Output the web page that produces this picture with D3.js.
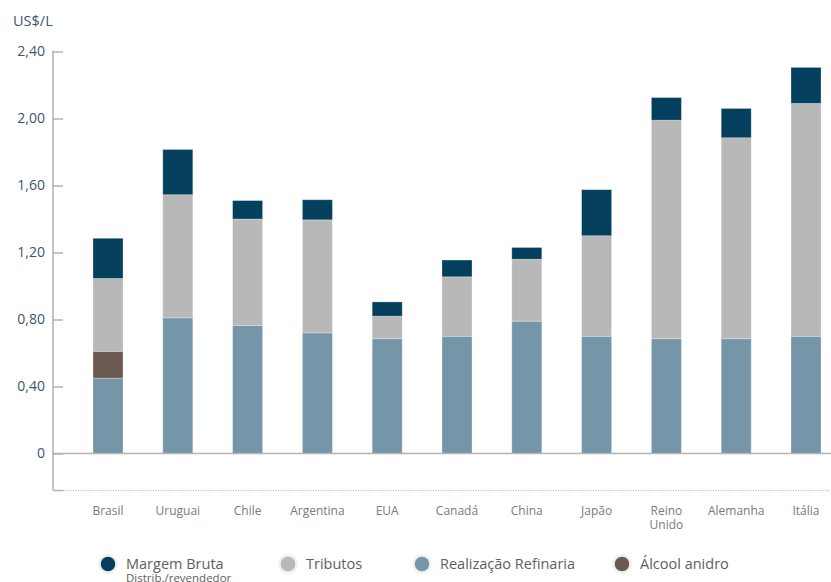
<!DOCTYPE html>
<html>
<head>
<meta charset="utf-8">
<script src="https://cdn.jsdelivr.net/npm/d3@7"></script>
<style>
  body { margin: 0; background: #fff; }
  svg text { font-family: "Open Sans", "Noto Sans", sans-serif; }
  .ytick text { fill: #3b5672; font-size: 14px; }
  .catlabel { fill: #7a7a7a; font-size: 12px; }
  .legtext { fill: #5e5e5e; font-size: 14.5px; }
</style>
</head>
<body>
<svg id="chart" width="831" height="582"></svg>
<script>
// data (US$/L)
var categories = ["Brasil", "Uruguai", "Chile", "Argentina", "EUA", "Canadá", "China", "Japão", "Reino Unido", "Alemanha", "Itália"];
var realizacao = [0.45, 0.81, 0.765, 0.72, 0.685, 0.70, 0.79, 0.70, 0.685, 0.685, 0.70];
var alcool     = [0.16, 0, 0, 0, 0, 0, 0, 0, 0, 0, 0];
var tributos   = [0.435, 0.735, 0.635, 0.675, 0.135, 0.355, 0.37, 0.60, 1.305, 1.20, 1.39];
var margem     = [0.24, 0.27, 0.11, 0.12, 0.085, 0.10, 0.07, 0.275, 0.135, 0.175, 0.215];
var yTicks     = [0, 0.4, 0.8, 1.2, 1.6, 2.0, 2.4];

var seriesKeys   = ["realizacao", "alcool", "tributos", "margem"];
var seriesColors = { realizacao: "#7596a8", alcool: "#6a5a51", tributos: "#b8b8b8", margem: "#053f5e" };
var legendItems  = [
    { key: "margem",     label: "Margem Bruta", sub: "Distrib./revendedor", x: 108 },
    { key: "tributos",   label: "Tributos",     x: 288 },
    { key: "realizacao", label: "Realização Refinaria", x: 422 },
    { key: "alcool",     label: "Álcool anidro", x: 622 }
];

var table = categories.map(function(c, i) {
    return { cat: c, realizacao: realizacao[i], alcool: alcool[i], tributos: tributos[i], margem: margem[i] };
});

var svg = d3.select("#chart");

var x = d3.scaleBand()
    .domain(categories)
    .range([73.1, 840.9])
    .paddingInner(0.57)
    .paddingOuter(0.285);

var y = d3.scaleLinear()
    .domain([0, 2.4])
    .range([453.5, 51.5]);

var axisX = 53;

// unit label
svg.append("text")
    .attr("x", 13)
    .attr("y", 26)
    .attr("fill", "#3b5672")
    .style("font-size", "14.5px")
    .text("US$/L");

// y axis
var yAxis = d3.axisLeft(y)
    .tickValues(yTicks)
    .tickSizeInner(-10)
    .tickSizeOuter(0)
    .tickPadding(8)
    .tickFormat(function(d) { return d === 0 ? "0" : d3.format(".2f")(d).replace(".", ","); });

var gy = svg.append("g")
    .attr("class", "ytick")
    .attr("transform", "translate(" + axisX + ",0)")
    .call(yAxis);
gy.select(".domain").remove();
gy.selectAll("line").attr("stroke", "#a8a8a8").attr("stroke-width", 1.3);

svg.append("line")
    .attr("x1", axisX).attr("x2", axisX)
    .attr("y1", y(2.4) - 1).attr("y2", 490.5)
    .attr("stroke", "#b0b0b0")
    .attr("stroke-width", 1.5);

// bottom dotted line
svg.append("line")
    .attr("x1", axisX).attr("x2", 63)
    .attr("y1", 490.5).attr("y2", 490.5)
    .attr("stroke", "#b0b0b0")
    .attr("stroke-width", 1.5);
svg.append("line")
    .attr("x1", 63).attr("x2", 829)
    .attr("y1", 490.5).attr("y2", 490.5)
    .attr("stroke", "#b5b5b5")
    .attr("stroke-width", 1)
    .attr("stroke-dasharray", "1,1.5");

// stacked bars
var stack = d3.stack().keys(seriesKeys);
var layers = stack(table);

svg.append("g")
    .selectAll("g")
    .data(layers)
    .enter().append("g")
        .attr("fill", function(d) { return seriesColors[d.key]; })
    .selectAll("rect")
    .data(function(d) { return d.filter(function(p) { return p[1] - p[0] > 0; }); })
    .enter().append("rect")
        .attr("x",      function(d) { return x(d.data.cat); })
        .attr("y",      function(d) { return y(d[1]); })
        .attr("width",  x.bandwidth())
        .attr("height", function(d) { return y(d[0]) - y(d[1]); })
        .attr("stroke", "rgba(255,255,255,0.35)")
        .attr("stroke-width", 0.8);

// zero line
svg.append("line")
    .attr("x1", axisX).attr("x2", 831)
    .attr("y1", y(0)).attr("y2", y(0))
    .attr("stroke", "#b5b5b5")
    .attr("stroke-width", 1.6);

// category labels
var cats = svg.append("g")
    .selectAll("text")
    .data(categories)
    .enter().append("text")
        .attr("class", "catlabel")
        .attr("text-anchor", "middle")
        .attr("x", function(d) { return x(d) + x.bandwidth() / 2; })
        .attr("y", 515);
cats.each(function(d) {
    var words = d === "Reino Unido" ? ["Reino", "Unido"] : [d];
    var t = d3.select(this);
    words.forEach(function(w, i) {
        t.append("tspan")
            .attr("x", t.attr("x"))
            .attr("dy", i === 0 ? 0 : 14)
            .text(w);
    });
});

// legend
var leg = svg.append("g")
    .selectAll("g")
    .data(legendItems)
    .enter().append("g")
        .attr("transform", function(d) { return "translate(" + d.x + ",564)"; });
leg.append("circle")
    .attr("r", 8.5)
    .attr("fill", function(d) { return seriesColors[d.key]; })
    .attr("stroke", "#efefef")
    .attr("stroke-width", 2.5);
leg.append("text")
    .attr("class", "legtext")
    .attr("x", 18)
    .attr("y", 5)
    .text(function(d) { return d.label; });
leg.filter(function(d) { return d.sub; })
    .append("text")
    .attr("x", 18)
    .attr("y", 18)
    .attr("fill", "#5e5e5e")
    .style("font-size", "11.5px")
    .text(function(d) { return d.sub; });
</script>
</body>
</html>
